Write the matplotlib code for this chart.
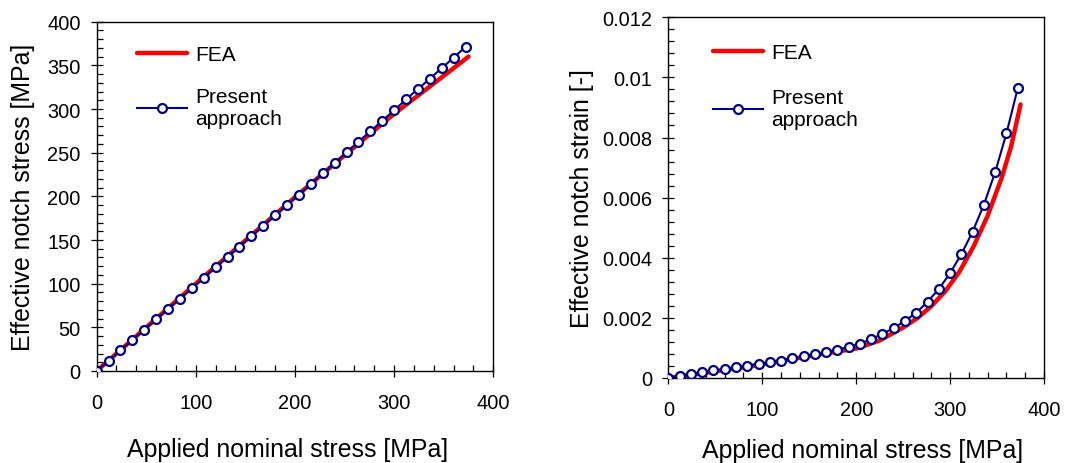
import numpy as np
import matplotlib
matplotlib.use("Agg")
import matplotlib.pyplot as plt
from matplotlib.ticker import MultipleLocator

plt.rcParams['font.family'] = ['Liberation Sans', 'DejaVu Sans']

# Applied nominal stress at the computed points of the present approach [MPa]
stress_pts = [0, 12, 24, 36, 48, 60, 72, 84, 96, 108, 120, 132, 144, 156, 168, 180,
              192, 204, 216, 228, 240, 252, 264, 276, 288, 300, 312, 324, 336, 348, 360, 372]

# Present approach: effective notch stress [MPa]
notch_stress_pa = [0, 11.8, 23.7, 35.5, 47.3, 59.2, 71.0, 82.8, 94.7, 106.5, 118.7, 130.9,
                   142.4, 154.2, 166.4, 178.2, 190.0, 201.9, 214.0, 226.3, 238.0, 250.4,
                   262.6, 274.4, 286.6, 298.5, 311.0, 322.9, 334.7, 346.9, 358.8, 371.3]

# Present approach: effective notch strain [-]
notch_strain_pa = [0, 0.00007, 0.00013, 0.00019, 0.00025, 0.00030, 0.00036, 0.00041,
                   0.00047, 0.00053, 0.00058, 0.00065, 0.00072, 0.00079, 0.00087, 0.00094,
                   0.00104, 0.00114, 0.00129, 0.00147, 0.00166, 0.00190, 0.00217, 0.00254,
                   0.00296, 0.00349, 0.00412, 0.00487, 0.00577, 0.00685, 0.00814, 0.00964]

# FEA reference curves
fea_stress_x = [0, 100, 200, 250, 300, 350, 375]
fea_stress_y = [0, 100, 199, 247, 294.5, 338, 360]

fea_strain_x = [0, 50, 100, 150, 200, 225, 250, 265, 280, 295, 310, 325, 340, 355, 365, 375]
fea_strain_y = [0, 0.00022, 0.00045, 0.00073, 0.00098, 0.00125, 0.00168, 0.00199, 0.00239,
                0.00289, 0.00354, 0.00438, 0.00540, 0.00667, 0.00771, 0.00910]

xticks = [0, 100, 200, 300, 400]
stress_ticks = [0, 50, 100, 150, 200, 250, 300, 350, 400]
strain_ticks = [0, 0.002, 0.004, 0.006, 0.008, 0.01, 0.012]
strain_ticklabels = ['0', '0.002', '0.004', '0.006', '0.008', '0.01', '0.012']

RED = '#ff0000'
NAVY = '#000080'
TICK_FS = 14.4
LABEL_FS = 17.9
LEG_FS = 15

fig = plt.figure(figsize=(10.74, 4.64), dpi=100)
ax1 = fig.add_axes([0.090, 0.1983, 0.3693, 0.7528])
ax2 = fig.add_axes([0.6223, 0.1832, 0.3498, 0.7774])


def style_axes(ax):
    for sp in ax.spines.values():
        sp.set_linewidth(1.0)
        sp.set_color('black')
    ax.tick_params(which='major', direction='inout', length=8, width=0.9,
                   labelsize=TICK_FS, top=False, right=False)
    ax.tick_params(axis='x', which='major', pad=11.5)
    ax.tick_params(axis='y', which='major', pad=7.5)
    ax.tick_params(which='minor', direction='in', length=4, width=0.9,
                   top=False, right=False)
    ax.xaxis.set_minor_locator(MultipleLocator(20))


def draw(ax, fx, fy, px, py):
    fea, = ax.plot(fx, fy, color=RED, lw=3.2, solid_capstyle='round', label='FEA', zorder=2)
    pa, = ax.plot(px, py, color=NAVY, lw=1.5, marker='o', ms=6.4, mfc='white',
                  mec=NAVY, mew=1.6, label='Present\napproach', zorder=3)
    return fea, pa


# Left: effective notch stress
fea1, pa1 = draw(ax1, fea_stress_x, fea_stress_y, stress_pts, notch_stress_pa)
ax1.set_xlim(0, 400)
ax1.set_ylim(0, 400)
ax1.set_xticks(xticks)
ax1.set_yticks(stress_ticks)
ax1.yaxis.set_minor_locator(MultipleLocator(10))
style_axes(ax1)
ax1.set_xlabel('Applied nominal stress [MPa]', fontsize=LABEL_FS, labelpad=18.5)
ax1.xaxis.label.set_x(0.482)
ax1.set_ylabel('Effective notch stress [MPa]', fontsize=LABEL_FS, labelpad=9)

# Right: effective notch strain
fea2, pa2 = draw(ax2, fea_strain_x, fea_strain_y, stress_pts, notch_strain_pa)
ax2.set_xlim(0, 400)
ax2.set_ylim(0, 0.012)
ax2.set_xticks(xticks)
ax2.set_yticks(strain_ticks)
ax2.set_yticklabels(strain_ticklabels)
ax2.yaxis.set_minor_locator(MultipleLocator(0.0004))
style_axes(ax2)
ax2.set_xlabel('Applied nominal stress [MPa]', fontsize=LABEL_FS, labelpad=14)
ax2.xaxis.label.set_x(0.516)
ax2.set_ylabel('Effective notch strain [-]', fontsize=LABEL_FS, labelpad=6)

for ax, anchor, spacing in [(ax1, (0.065, 0.974), 1.1), (ax2, (0.08, 0.968), 1.25)]:
    ax.legend(loc='upper left', bbox_to_anchor=anchor, frameon=False, fontsize=LEG_FS,
              handlelength=2.4, handletextpad=0.4, labelspacing=spacing,
              borderaxespad=0.3)

fig.savefig('out.png', dpi=100)
